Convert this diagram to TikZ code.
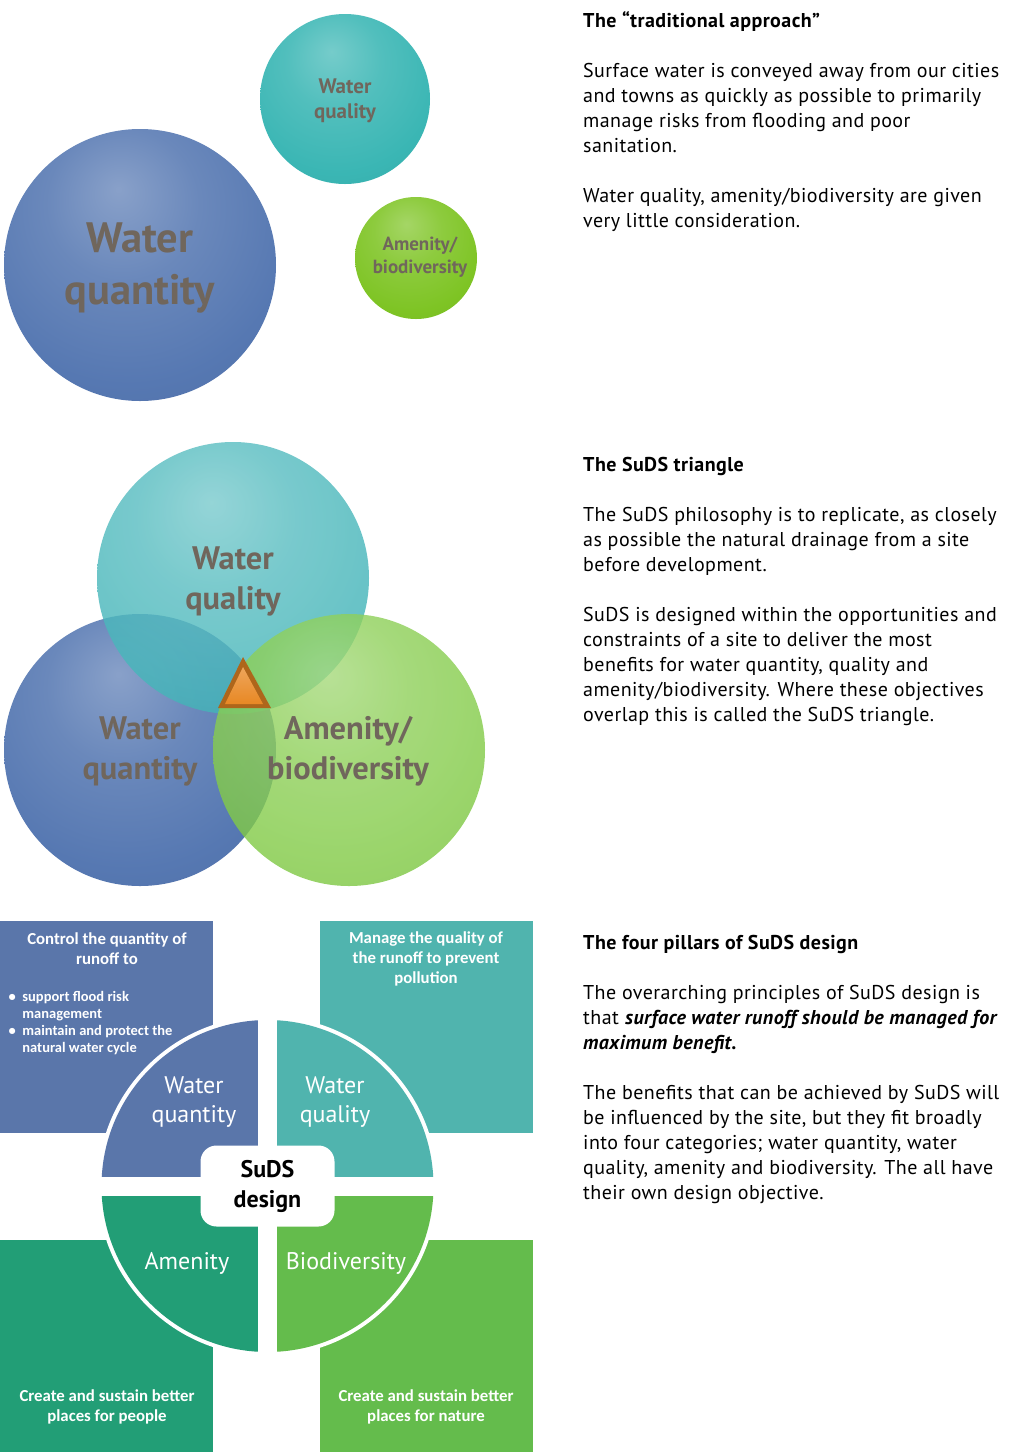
\documentclass[tikz,border=0pt]{standalone}
\usepackage{fontspec}
\setmainfont{PT Sans}
\newfontfamily\colfont[LetterSpace=2.2]{PT Sans}
\newfontfamily\boxfont{Carlito}
\usetikzlibrary{calc}

\definecolor{qtyblue}{RGB}{86,120,178}
\definecolor{qualteal}{RGB}{58,182,180}
\definecolor{amgreen}{RGB}{126,196,36}
\definecolor{vennteal}{RGB}{70,182,186}
\definecolor{venngreen}{RGB}{128,202,68}
\definecolor{bubbletext}{RGB}{112,102,92}
\definecolor{pillarblue}{RGB}{90,118,170}
\definecolor{pillarteal}{RGB}{80,180,174}
\definecolor{pillarsea}{RGB}{34,158,118}
\definecolor{pillargreen}{RGB}{100,188,76}
\definecolor{trianglefill}{RGB}{232,136,36}

\makeatletter
\pgfdeclareradialshading[tikz@ball]{bubble}{\pgfpoint{-4bp}{14bp}}{%
  color(0bp)=(tikz@ball!70!white); color(14bp)=(tikz@ball!88!white);
  color(30bp)=(tikz@ball); color(47bp)=(tikz@ball!90!black);
  color(56bp)=(tikz@ball!68!black); color(70bp)=(tikz@ball!58!black)}
\makeatother

\begin{document}
\begin{tikzpicture}[x=1pt,y=-1pt,
    bubble/.style={ball color=#1,shading=bubble},
    bubbletxt/.style={text=bubbletext,align=center,inner sep=0pt},
    boxtxt/.style={text=white,align=center,inner sep=0pt,
      font=\boxfont\bfseries\fontsize{16.8}{20}\selectfont},
    wedgetxt/.style={text=white,align=center,inner sep=0pt,
      font=\fontsize{24}{29}\selectfont},
    headtxt/.style={anchor=base west,inner sep=0pt,
      font=\colfont\bfseries\fontsize{20}{25}\selectfont},
    bodytxt/.style={anchor=base west,inner sep=0pt,align=left,
      font=\colfont\fontsize{20}{25}\selectfont}]
  \fill[white] (0,0) rectangle (1020,1452);
  \useasboundingbox (0,0) rectangle (1020,1452);

  % traditional approach
  \shade[bubble=qtyblue] (140,265) circle (136pt);
  \shade[bubble=qualteal] (345,99) circle (85pt);
  \shade[bubble=amgreen] (416,258) circle (61pt);
  \node[bubbletxt,font=\bfseries\fontsize{42.5}{52}\selectfont] (quantityA) at (140,268) {Water\\quantity};
  \node[bubbletxt,font=\bfseries\fontsize{21}{25}\selectfont] (qualityA) at (345,101) {Water\\quality};
  \node[bubbletxt,font=\bfseries\fontsize{19}{23}\selectfont] (amenityA) at (420,257) {Amenity/\\biodiversity};

  % SuDS triangle
  \shade[bubble=qtyblue] (140,750) circle (136pt);
  \shade[bubble=vennteal,opacity=0.82] (233,578) circle (136pt);
  \shade[bubble=venngreen,opacity=0.8] (349,750) circle (136pt);
  \fill[trianglefill!75!black] (243,657) -- (218,708) -- (271,708) -- cycle;
  \shade[top color=trianglefill!75!white,bottom color=trianglefill] (243,667) -- (225,704) -- (263,704) -- cycle;
  \node[bubbletxt,font=\bfseries\fontsize{32.5}{40}\selectfont] (qualityB) at (233,581) {Water\\quality};
  \node[bubbletxt,font=\bfseries\fontsize{32.5}{40}\selectfont] (quantityB) at (140,751) {Water\\quantity};
  \node[bubbletxt,font=\bfseries\fontsize{32.5}{40}\selectfont] (amenityB) at (348,751) {Amenity/\\biodiversity};

  % four pillars
  \fill[pillarblue] (0,921) rectangle (213,1133);
  \fill[pillarteal] (320,921) rectangle (533,1133);
  \fill[pillarsea] (0,1240) rectangle (213,1452);
  \fill[pillargreen] (320,1240) rectangle (533,1452);
  \coordinate (hub) at (267.5,1186);
  \fill[white] (hub) circle (170pt);
  \begin{scope}
    \clip (hub) circle (166pt);
    \fill[pillarblue] ($(hub)+(-9.5,-9.5)$) rectangle ++(-170,-170);
    \fill[pillarteal] ($(hub)+(9.5,-9.5)$) rectangle ++(170,-170);
    \fill[pillarsea] ($(hub)+(-9.5,9.5)$) rectangle ++(-170,170);
    \fill[pillargreen] ($(hub)+(9.5,9.5)$) rectangle ++(170,170);
  \end{scope}
  \node[fill=white,rounded corners=16pt,minimum width=134pt,minimum height=81pt,align=center,
    font=\bfseries\fontsize{24}{30}\selectfont] (suds) at (hub) {SuDS\\design};
  \node[wedgetxt] (wquantity) at (194,1102) {Water\\quantity};
  \node[wedgetxt] (wquality) at (335,1102) {Water\\quality};
  \node[wedgetxt] (wamenity) at (187,1263) {Amenity};
  \node[wedgetxt] (wbio) at (346,1263) {Biodiversity};
  \node[boxtxt] (ctrl) at (107,949) {Control the quantity of\\runoff to};
  \node[anchor=base west,inner sep=0pt,text=white,font=\boxfont\bfseries\fontsize{14.5}{17}\selectfont] (bullets) at (8.5,1001)
    {\begin{tabular}[t]{@{}l@{\hspace{6.5pt}}l@{}}
      \textbullet & support flood risk\\
                  & management\\
      \textbullet & maintain and protect the\\
                  & natural water cycle
    \end{tabular}};
  \node[boxtxt] (manage) at (426,959) {Manage the quality of\\the runoff to prevent\\pollution};
  \node[boxtxt] (people) at (107,1407) {Create and sustain better\\places for people};
  \node[boxtxt] (nature) at (426,1407) {Create and sustain better\\places for nature};

  % right column
  \node[headtxt] (headA) at (583,27) {The “traditional approach”};
  \node[bodytxt] (paraA) at (583,152) {Surface water is conveyed away from our cities\\and towns as quickly as possible to primarily\\manage risks from flooding and poor\\sanitation.};
  \node[bodytxt] (paraB) at (583,227) {Water quality, amenity/biodiversity are given\\very little consideration.};
  \node[headtxt] (headB) at (583,471) {The SuDS triangle};
  \node[bodytxt] (paraC) at (583,571) {The SuDS philosophy is to replicate, as closely\\as possible the natural drainage from a site\\before development.};
  \node[bodytxt] (paraD) at (583,721) {SuDS is designed within the opportunities and\\constraints of a site to deliver the most\\benefits for water quantity, quality and\\amenity/biodiversity. Where these objectives\\overlap this is called the SuDS triangle.};
  \node[headtxt] (headC) at (583,949) {The four pillars of SuDS design};
  \node[bodytxt] (paraE) at (583,1049) {The overarching principles of SuDS design is\\that \textbf{\textit{surface water runoff should be managed for}}\\\textbf{\textit{maximum benefit.}}};
  \node[bodytxt] (paraF) at (583,1199) {The benefits that can be achieved by SuDS will\\be influenced by the site, but they fit broadly\\into four categories; water quantity, water\\quality, amenity and biodiversity. The all have\\their own design objective.};
\end{tikzpicture}
\end{document}
